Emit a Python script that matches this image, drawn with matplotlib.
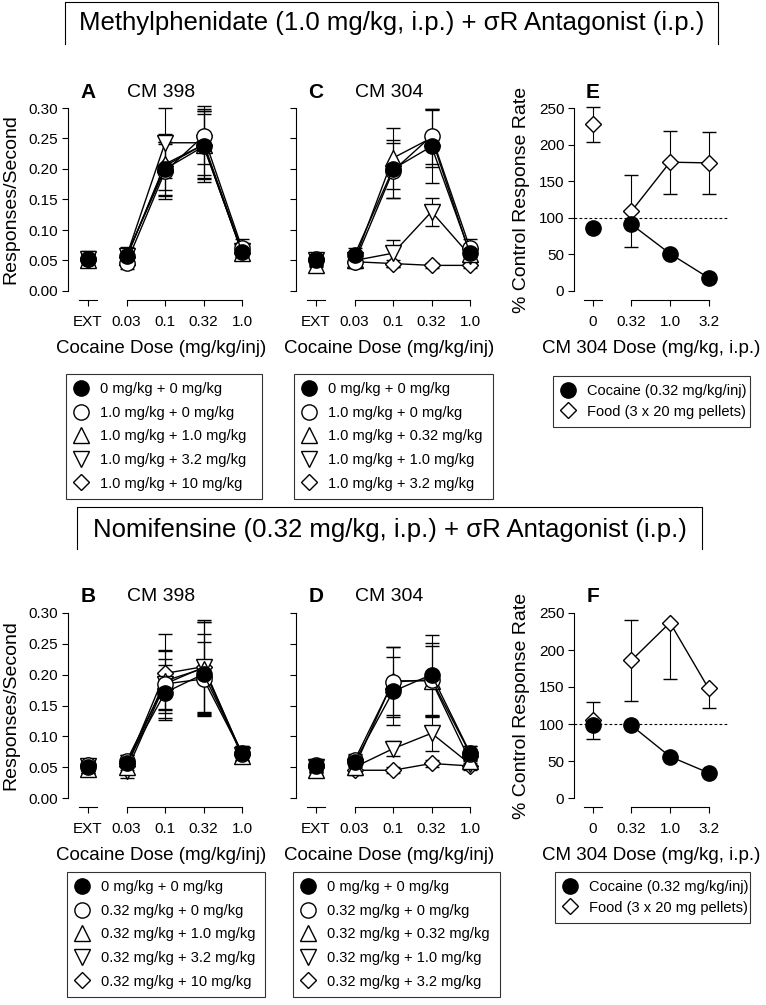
import matplotlib
matplotlib.use("Agg")
import matplotlib.pyplot as plt
from matplotlib.lines import Line2D
from matplotlib import transforms

plt.rcParams['font.family'] = ['Liberation Sans', 'DejaVu Sans']

W, H = 766, 1005

cocaine_doses = ['EXT', '0.03', '0.1', '0.32', '1.0']
cm304_doses = ['0', '0.32', '1.0', '3.2']

# series order: 0+0, agonist+0, agonist+low, agonist+mid, agonist+high
legend_a = ['0 mg/kg + 0 mg/kg', '1.0 mg/kg + 0 mg/kg', '1.0 mg/kg + 1.0 mg/kg',
            '1.0 mg/kg + 3.2 mg/kg', '1.0 mg/kg + 10 mg/kg']
legend_c = ['0 mg/kg + 0 mg/kg', '1.0 mg/kg + 0 mg/kg', '1.0 mg/kg + 0.32 mg/kg',
            '1.0 mg/kg + 1.0 mg/kg', '1.0 mg/kg + 3.2 mg/kg']
legend_b = ['0 mg/kg + 0 mg/kg', '0.32 mg/kg + 0 mg/kg', '0.32 mg/kg + 1.0 mg/kg',
            '0.32 mg/kg + 3.2 mg/kg', '0.32 mg/kg + 10 mg/kg']
legend_d = ['0 mg/kg + 0 mg/kg', '0.32 mg/kg + 0 mg/kg', '0.32 mg/kg + 0.32 mg/kg',
            '0.32 mg/kg + 1.0 mg/kg', '0.32 mg/kg + 3.2 mg/kg']
legend_ef = ['Cocaine (0.32 mg/kg/inj)', 'Food (3 x 20 mg pellets)']

# A: methylphenidate + CM 398
a_means = [[0.052, 0.058, 0.200, 0.237, 0.064],
           [0.053, 0.046, 0.196, 0.254, 0.070],
           [0.050, 0.055, 0.208, 0.240, 0.063],
           [0.052, 0.057, 0.243, 0.243, 0.065],
           [0.051, 0.056, 0.205, 0.240, 0.062]]
a_sem = [[0.010, 0.012, 0.045, 0.058, 0.012],
         [0.012, 0.010, 0.045, 0.045, 0.015],
         [0.010, 0.010, 0.050, 0.055, 0.012],
         [0.012, 0.015, 0.057, 0.060, 0.013],
         [0.010, 0.012, 0.040, 0.050, 0.012]]

# C: methylphenidate + CM 304
c_means = [[0.051, 0.059, 0.200, 0.237, 0.062],
           [0.053, 0.047, 0.197, 0.254, 0.070],
           [0.042, 0.050, 0.218, 0.251, 0.060],
           [0.050, 0.050, 0.062, 0.130, 0.058],
           [0.050, 0.048, 0.045, 0.042, 0.042]]
c_sem = [[0.010, 0.012, 0.048, 0.060, 0.012],
         [0.010, 0.010, 0.045, 0.045, 0.015],
         [0.010, 0.010, 0.050, 0.048, 0.012],
         [0.010, 0.010, 0.022, 0.023, 0.010],
         [0.008, 0.008, 0.005, 0.004, 0.004]]

# B: nomifensine + CM 398
b_means = [[0.050, 0.057, 0.171, 0.201, 0.073],
           [0.054, 0.060, 0.185, 0.193, 0.072],
           [0.047, 0.050, 0.190, 0.210, 0.068],
           [0.052, 0.043, 0.185, 0.212, 0.070],
           [0.053, 0.052, 0.202, 0.213, 0.071]]
b_sem = [[0.010, 0.012, 0.045, 0.065, 0.012],
         [0.010, 0.010, 0.040, 0.060, 0.012],
         [0.010, 0.010, 0.048, 0.075, 0.010],
         [0.012, 0.010, 0.055, 0.073, 0.010],
         [0.010, 0.012, 0.064, 0.075, 0.012]]

# D: nomifensine + CM 304
d_means = [[0.052, 0.058, 0.173, 0.200, 0.073],
           [0.054, 0.061, 0.188, 0.192, 0.072],
           [0.045, 0.050, 0.190, 0.190, 0.060],
           [0.050, 0.050, 0.080, 0.105, 0.055],
           [0.050, 0.045, 0.045, 0.056, 0.052]]
d_sem = [[0.010, 0.012, 0.055, 0.065, 0.012],
         [0.010, 0.010, 0.057, 0.060, 0.012],
         [0.008, 0.010, 0.055, 0.057, 0.010],
         [0.010, 0.010, 0.012, 0.028, 0.010],
         [0.008, 0.008, 0.005, 0.005, 0.005]]

# E / F: % control response rate
e_cocaine = [86, 91, 51, 18]
e_cocaine_err = [3, 3, 3, 2]
e_food = [228, 109, 176, 175]
e_food_err = [24, 49, 43, 42]

f_cocaine = [99, 98, 56, 34]
f_cocaine_err = [3, 3, 3, 2]
f_food = [105, 186, 237, 148]
f_food_err_lo = [25, 55, 76, 27]
f_food_err_hi = [25, 55, 0, 0]

markers = [('o', 'black', 11), ('o', 'white', 11), ('^', 'white', 11),
           ('v', 'white', 11), ('D', 'white', 8.5)]

fig = plt.figure(figsize=(W / 100, H / 100), dpi=100)


def add_ax(left, right, top, bottom):
    return fig.add_axes([left / W, 1 - bottom / H, (right - left) / W, (bottom - top) / H])


def style_axis(ax, labels, ylim, yticks, show_ylabels=True):
    n = len(labels)
    ax.spines[['top', 'right']].set_visible(False)
    ax.spines['bottom'].set_position(('outward', 6.5))
    ax.spines['bottom'].set_bounds(1, n - 1)
    ax.spines['left'].set_bounds(*ylim)
    for s in ['bottom', 'left']:
        ax.spines[s].set_linewidth(0.8)
    ax.set_xticks(range(n), labels)
    ax.set_ylim(*ylim)
    ax.set_yticks(yticks)
    if not show_ylabels:
        ax.set_yticklabels([])
    ax.tick_params(direction='out', length=4, width=0.8, labelsize=11, pad=3)
    ax.tick_params(axis='x', pad=7)
    # short separate axis piece under EXT / 0
    tr = transforms.offset_copy(ax.get_xaxis_transform(), fig=fig, y=-6.5, units='points')
    ax.plot([-0.23, 0.23], [0, 0], transform=tr, color='black', lw=0.8, clip_on=False)


def dose_panel(ax, means, sems, letter, drug, ylabel):
    x = list(range(5))
    for i in reversed(range(5)):
        m, fc, ms = markers[i]
        kw = dict(color='black', marker=m, mfc=fc, mec='black', ms=ms, mew=1,
                  capsize=5, elinewidth=0.8, capthick=0.8, clip_on=False)
        ax.errorbar(x[1:], means[i][1:], yerr=sems[i][1:], lw=1, **kw)
        ax.errorbar(x[:1], means[i][:1], yerr=sems[i][:1], ls='none', **kw)
    ax.set_xlim(-0.52, 4.31)
    style_axis(ax, cocaine_doses, (0, 0.30), [0, 0.05, 0.10, 0.15, 0.20, 0.25, 0.30],
               show_ylabels=ylabel)
    if ylabel:
        ax.yaxis.set_major_formatter(plt.FormatStrFormatter('%.2f'))
        ax.set_ylabel('Responses/Second', fontsize=14, labelpad=7)
    ax.set_xlabel('Cocaine Dose (mg/kg/inj)', fontsize=13.5, labelpad=8)
    ax.text(0.107, 1.087, letter, transform=ax.transAxes, ha='center', va='center',
            fontsize=15, fontweight='bold')
    ax.text(0.5, 1.087, drug, transform=ax.transAxes, ha='center', va='center', fontsize=14)


def rate_panel(ax, coc, coc_err, food, food_err, letter):
    x = list(range(4))
    ax.axhline(100, color='black', lw=0.8, ls=(0, (2.5, 2)), zorder=1)
    fk = dict(color='black', marker='D', mfc='white', mec='black', ms=8.5, mew=1,
              capsize=5, elinewidth=0.8, capthick=0.8, clip_on=False)
    ck = dict(color='black', marker='o', mfc='black', mec='black', ms=11,
              capsize=5, elinewidth=0.8, capthick=0.8, clip_on=False)
    ax.errorbar(x[1:], food[1:], yerr=[e[1:] for e in food_err], lw=1, **fk)
    ax.errorbar(x[:1], food[:1], yerr=[e[:1] for e in food_err], ls='none', **fk)
    ax.errorbar(x[1:], coc[1:], yerr=coc_err[1:], lw=1, **ck)
    ax.errorbar(x[:1], coc[:1], yerr=coc_err[:1], ls='none', **ck)
    ax.set_xlim(-0.49, 3.53)
    style_axis(ax, cm304_doses, (0, 250), [0, 50, 100, 150, 200, 250])
    ax.set_ylabel('% Control Response Rate', fontsize=14, labelpad=6)
    ax.set_xlabel('CM 304 Dose (mg/kg, i.p.)', fontsize=13.5, labelpad=8)
    ax.text(0.12, 1.087, letter, transform=ax.transAxes, ha='center', va='center',
            fontsize=15, fontweight='bold')


def add_legend(labels, x0, x1, top, handles, spacing):
    leg = fig.legend(handles, labels, loc='upper left',
                     bbox_to_anchor=(x0 / W, 1 - top / H, (x1 - x0) / W, 0),
                     mode='expand', borderaxespad=0, frameon=True, fancybox=False,
                     edgecolor='black', fontsize=10.5, handlelength=1.0,
                     handletextpad=0.8, labelspacing=spacing, borderpad=0.55)
    leg.get_frame().set_linewidth(0.8)
    return leg


def title_box(x0, x1, top, bottom, ytext, text):
    fig.add_artist(Line2D([x0 / W, x0 / W, x1 / W, x1 / W],
                          [1 - bottom / H, 1 - top / H, 1 - top / H, 1 - bottom / H],
                          transform=fig.transFigure, color='black', lw=0.8))
    fig.text((x0 + x1) / 2 / W, 1 - ytext / H, text, ha='center', va='center', fontsize=18.5)


dose_handles = [Line2D([], [], marker=m, mfc=fc, mec='black', ms=ms, ls='none', mew=1)
                for m, fc, ms in markers]
rate_handles = [Line2D([], [], marker='o', mfc='black', mec='black', ms=11, ls='none'),
                Line2D([], [], marker='D', mfc='white', mec='black', ms=8.5, ls='none', mew=1)]

# top row
title_box(65, 718, 2, 44, 23, 'Methylphenidate (1.0 mg/kg, i.p.) + σR Antagonist (i.p.)')
ax_a = add_ax(68, 254, 108, 291)
dose_panel(ax_a, a_means, a_sem, 'A', 'CM 398', True)
ax_c = add_ax(296, 482, 108, 291)
dose_panel(ax_c, c_means, c_sem, 'C', 'CM 304', False)
ax_e = add_ax(574, 729, 108, 291)
rate_panel(ax_e, e_cocaine, e_cocaine_err, e_food, [e_food_err, e_food_err], 'E')
add_legend(legend_a, 66, 262, 374, dose_handles, 0.66)
add_legend(legend_c, 294, 493, 374, dose_handles, 0.66)
add_legend(legend_ef, 553, 750, 376, rate_handles, 0.45)

# bottom row
title_box(77, 702, 507, 549, 530, 'Nomifensine (0.32 mg/kg, i.p.) + σR Antagonist (i.p.)')
ax_b = add_ax(68, 254, 613, 798)
dose_panel(ax_b, b_means, b_sem, 'B', 'CM 398', True)
ax_d = add_ax(296, 482, 613, 798)
dose_panel(ax_d, d_means, d_sem, 'D', 'CM 304', False)
ax_f = add_ax(574, 729, 613, 798)
rate_panel(ax_f, f_cocaine, f_cocaine_err, f_food, [f_food_err_lo, f_food_err_hi], 'F')
add_legend(legend_b, 67, 265, 872, dose_handles, 0.66)
add_legend(legend_d, 293, 500, 872, dose_handles, 0.66)
add_legend(legend_ef, 555, 750, 872, rate_handles, 0.45)

fig.savefig('out.png', dpi=100)
